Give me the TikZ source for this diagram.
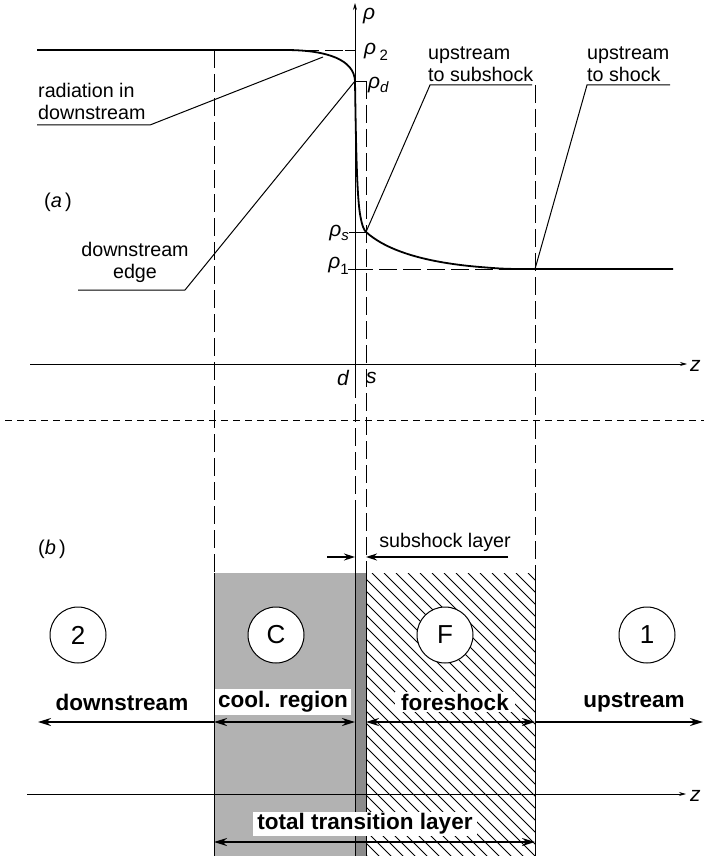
\documentclass[tikz,border=0pt]{standalone}
\usepackage{fontspec}
\setmainfont{Liberation Sans}
\usetikzlibrary{arrows.meta}
\begin{document}
\begin{tikzpicture}[x=1pt,y=-1pt,
  lbl/.style={font=\fontsize{19.7}{22}\selectfont, inner sep=0pt, align=left},
  sym/.style={font=\fontsize{21}{22}\selectfont\itshape, inner sep=0pt},
  boldlbl/.style={font=\fontsize{22.5}{24}\selectfont\bfseries, inner xsep=4pt, inner ysep=2pt, fill=white},
  circ/.style={circle, draw, line width=1pt, fill=white, minimum size=56pt, inner sep=0pt, font=\fontsize{26}{26}\selectfont},
  longdash/.style={dash pattern=on 18pt off 6pt, line width=0.8pt},
  shortdash/.style={dash pattern=on 7pt off 5pt, line width=0.8pt},
  leader/.style={line width=1pt},
  axisarrow/.style={line width=0.8pt, -{Stealth[length=7pt,width=4pt]}},
  onearrow/.style={line width=1.8pt, -{Stealth[length=13pt,width=8pt]}},
  twoarrow/.style={line width=1.8pt, {Stealth[length=13pt,width=8pt]}-{Stealth[length=13pt,width=8pt]}},
  curve/.style={line width=1.8pt},
]
\useasboundingbox (0,0) rectangle (704,856);

% ---------- lower regions ----------
\fill[black!30] (214,573) rectangle (366,856);
\fill[black!45] (355,573) rectangle (366,856);
\begin{scope}
  \clip (366,573) rectangle (535,856);
  \foreach \x in {-300,-288,...,540} \draw[line width=0.9pt] (\x,573) -- ++(300,300);
\end{scope}
\draw[line width=1pt] (214,573) -- (214,856);
\draw[line width=1pt] (535,573) -- (535,856);
\draw[line width=0.8pt] (366,573) -- (366,856);
\draw[line width=1pt] (355,508) -- (355,856);

% ---------- dashed verticals ----------
\draw[longdash] (214,50) -- (214,573);
\draw[longdash] (366,81) -- (366,573);
\draw[longdash] (535,85) -- (535,573);
\draw[longdash] (355,380) -- (355,508);

% separator
\draw[shortdash] (5,420) -- (704,420);

% ---------- axes (a) ----------
\coordinate (zL) at (30,364);
\coordinate (zR) at (687,364);
\draw[axisarrow] (zL) -- (zR);
\node[sym, anchor=west] (zlab) at (690,366) {z};
\coordinate (rB) at (355,380);
\coordinate (rT) at (355,3);
\draw[axisarrow] (rB) -- (rT);
\node[sym, anchor=west] (rho) at (363,16) {ρ};

% level marks
\draw[longdash] (37,50) -- (355,50);
\draw[line width=0.8pt] (345,50) -- (355,50);
\draw[longdash] (355,81) -- (366,81);
\draw[line width=0.8pt] (349,232) -- (366,232);
\draw[line width=0.8pt] (348,269) -- (355,269);
\draw[longdash] (355,269) -- (535,269);

\node[sym, anchor=west] (rho2) at (364,52) {ρ\,\raisebox{-6pt}{\upshape\fontsize{15}{15}\selectfont 2}};
\node[sym, anchor=west] (rhod) at (368,85) {ρ\raisebox{-4pt}{\fontsize{15}{15}\selectfont d}};
\node[sym, anchor=east] (rhos) at (349,233) {ρ\raisebox{-4pt}{\fontsize{15}{15}\selectfont s}};
\node[sym, anchor=east] (rho1) at (349,266) {ρ\raisebox{-6pt}{\upshape\fontsize{15}{15}\selectfont 1}};
\node[sym, anchor=east] (dlab) at (349,378) {d};
\node[sym, anchor=west] (slab) at (366,378) {s};

% density curve
\coordinate (pRad) at (323,57);
\coordinate (pD) at (355,81);
\coordinate (pS) at (366,232);
\coordinate (p1) at (535,269);
\draw[curve] (37,50) -- (285,50) .. controls (328,50) and (354,60) .. (pD)
  .. controls (356,150) and (357,195) .. (360,214)
  .. controls (362,226) and (364,230) .. (pS)
  .. controls (385,249) and (420,262) .. (480,267)
  .. controls (505,269) .. (p1) -- (673,269);

\node[sym, font=\fontsize{20}{22}\selectfont] (alab) at (58,202) {(\textit{a\,})};

% annotations
\node[lbl, anchor=south west] (rad) at (38,120) {radiation in\\downstream};
\coordinate (radL) at (37,125);
\coordinate (radR) at (150,125);
\draw[leader] (radL) -- (radR) -- (pRad);

\node[lbl, anchor=south, align=center] (dse) at (135,283) {downstream\\edge};
\coordinate (dseL) at (78,290);
\coordinate (dseR) at (185,290);
\draw[leader] (dseL) -- (dseR) -- (pD);

\node[lbl, anchor=south west] (uss) at (428,82) {upstream\\to subshock};
\coordinate (ussL) at (430,85);
\coordinate (ussR) at (532,85);
\draw[leader] (ussR) -- (ussL) -- (pS);

\node[lbl, anchor=south west] (ush) at (587,82) {upstream\\to shock};
\coordinate (ushL) at (587,85);
\coordinate (ushR) at (670,85);
\draw[leader] (ushR) -- (ushL) -- (p1);

% ---------- part (b) ----------
\node[sym, font=\fontsize{20}{22}\selectfont] (blab) at (52,549) {(\textit{b\,})};

\node[lbl] (subl) at (445,542) {subshock layer};
\coordinate (sl1) at (327,557);
\coordinate (sl2) at (355,557);
\coordinate (sr1) at (508,557);
\coordinate (sr2) at (366,557);
\draw[line width=1.5pt, -{Stealth[length=11pt,width=7pt]}] (sl1) -- (sl2);
\draw[line width=1.5pt, -{Stealth[length=11pt,width=7pt]}] (sr1) -- (sr2);

\node[circ] (c2) at (78,635) {2};
\node[circ] (cC) at (276,635) {C};
\node[circ] (cF) at (445,635) {F};
\node[circ] (c1) at (647,635) {1};

\coordinate (x0) at (38,722);
\coordinate (xa) at (214,722);
\coordinate (xb) at (355,722);
\coordinate (xc) at (366,722);
\coordinate (xd) at (535,722);
\coordinate (xe) at (703,722);
\draw[onearrow] (xa) -- (x0);
\draw[twoarrow] (xa) -- (xb);
\draw[twoarrow] (xc) -- (xd);
\draw[onearrow] (xd) -- (xe);

\node[boldlbl, fill=none] (ldown) at (122,702) {downstream};
\node[boldlbl, inner xsep=3pt] (lcool) at (283,702) {cool. region};
\node[boldlbl, inner xsep=6pt] (lfore) at (455,702) {foreshock};
\node[boldlbl, fill=none] (lup) at (634,702) {upstream};

\coordinate (z2L) at (27,794);
\coordinate (z2R) at (686,794);
\draw[axisarrow] (z2L) -- (z2R);
\node[sym, anchor=west] (z2lab) at (690,796) {z};

\node[boldlbl] (ltot) at (365,824) {total transition layer};
\coordinate (t1) at (214,842);
\coordinate (t2) at (535,842);
\draw[twoarrow] (t1) -- (t2);
\end{tikzpicture}
\end{document}
